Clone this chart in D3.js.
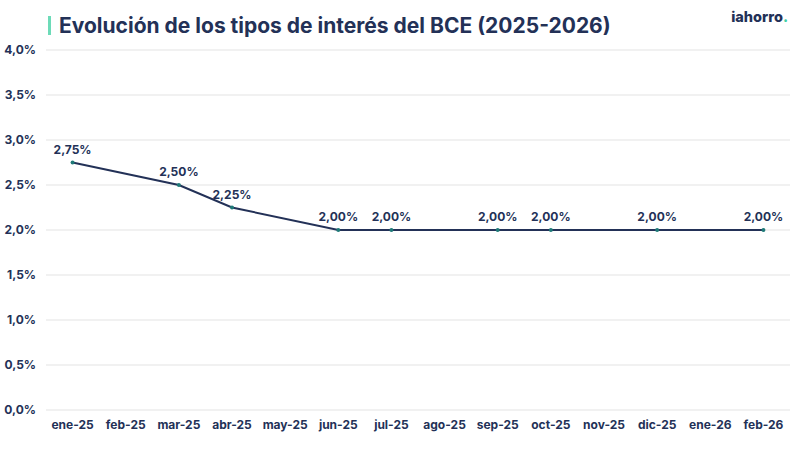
<!DOCTYPE html>
<html>
<head>
<meta charset="utf-8">
<script src="https://cdn.jsdelivr.net/npm/d3@7"></script>
<style>
	body { margin: 0; background: #ffffff; }
	svg { display: block; font-family: Inter, "Open Sans", sans-serif; }
</style>
</head>
<body>
<div id="chart"></div>
<script>
	// meses del eje X
	const months = ['ene-25','feb-25','mar-25','abr-25','may-25','jun-25','jul-25','ago-25','sep-25','oct-25','nov-25','dic-25','ene-26','feb-26'];
	// meses con decisión del BCE y su tipo
	const rateMonths = ['ene-25','mar-25','abr-25','jun-25','jul-25','sep-25','oct-25','dic-25','feb-26'];
	const rateValues = [2.75, 2.50, 2.25, 2.00, 2.00, 2.00, 2.00, 2.00, 2.00];
	const yTicks = [0, 0.5, 1, 1.5, 2, 2.5, 3, 3.5, 4];

	const width = 800;
	const height = 450;
	const margin = { top: 50, right: 10, bottom: 40, left: 46 };
	const navy = '#233157';

	const svg = d3.select('#chart')
		.append('svg')
		.attr('width', width)
		.attr('height', height);

	const x = d3.scaleBand()
		.domain(months)
		.range([margin.left, width - margin.right]);

	const y = d3.scaleLinear()
		.domain([0, 4])
		.range([height - margin.bottom, margin.top]);

	const fmt = function(v, d){
		return v.toFixed(d).replace('.', ',') + '%';
	};

	// titulo
	svg.append('rect')
		.attr('x', 48)
		.attr('y', 16)
		.attr('width', 3)
		.attr('height', 19)
		.attr('fill', '#6ddbb8');

	svg.append('text')
		.attr('x', 59)
		.attr('y', 33)
		.attr('font-size', 21)
		.attr('font-weight', 700)
		.attr('fill', navy)
		.text('Evolución de los tipos de interés del BCE (2025-2026)');

	// logo
	const logo = svg.append('text')
		.attr('x', 788)
		.attr('y', 22)
		.attr('text-anchor', 'end')
		.attr('font-size', 14.5)
		.attr('font-weight', 800)
		.attr('fill', navy);
	logo.append('tspan').text('iahorro');
	logo.append('tspan').attr('fill', '#3fd0a5').text('.');

	// rejilla
	svg.append('g')
		.selectAll('line')
		.data(yTicks)
		.join('line')
		.attr('x1', margin.left)
		.attr('x2', width - margin.right)
		.attr('y1', d => y(d))
		.attr('y2', d => y(d))
		.attr('stroke', '#e3e3e3')
		.attr('stroke-width', 1);

	const yAxis = svg.append('g')
		.attr('transform', `translate(${margin.left},0)`)
		.call(d3.axisLeft(y).tickValues(yTicks).tickFormat(d => fmt(d, 1)).tickSize(0).tickPadding(10));
	yAxis.select('.domain').remove();
	yAxis.selectAll('text')
		.attr('font-size', 12)
		.attr('font-weight', 700)
		.attr('fill', navy)
		.attr('font-family', 'Inter, sans-serif');

	const xAxis = svg.append('g')
		.attr('transform', `translate(0,${height - margin.bottom})`)
		.call(d3.axisBottom(x).tickSize(0).tickPadding(10));
	xAxis.select('.domain').remove();
	xAxis.selectAll('text')
		.attr('font-size', 12)
		.attr('font-weight', 700)
		.attr('fill', navy)
		.attr('font-family', 'Inter, sans-serif');

	const points = rateMonths.map((m, i) => ({ month: m, value: rateValues[i] }));
	const cx = d => x(d.month) + x.bandwidth() / 2;

	svg.append('path')
		.datum(points)
		.attr('fill', 'none')
		.attr('stroke', navy)
		.attr('stroke-width', 2)
		.attr('d', d3.line().x(cx).y(d => y(d.value)));

	svg.append('g')
		.selectAll('circle')
		.data(points)
		.join('circle')
		.attr('cx', cx)
		.attr('cy', d => y(d.value))
		.attr('r', 2)
		.attr('fill', '#1f7a78');

	svg.append('g')
		.selectAll('text')
		.data(points)
		.join('text')
		.attr('x', cx)
		.attr('y', d => y(d.value) - 9)
		.attr('text-anchor', 'middle')
		.attr('font-size', 12)
		.attr('font-weight', 700)
		.attr('fill', navy)
		.text(d => fmt(d.value, 2));
</script>
</body>
</html>
